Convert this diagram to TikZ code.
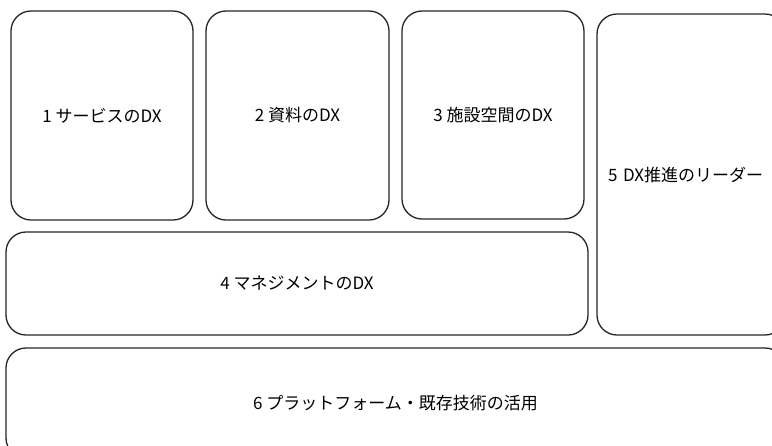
\documentclass[tikz,border=0pt]{standalone}
\usepackage{fontspec}
\setmainfont{Noto Sans CJK JP}
\begin{document}
\begin{tikzpicture}[x=1pt,y=-1pt,
  box/.style={draw=black!85, line width=1.3pt, rounded corners=20pt,
    rectangle, inner sep=0pt, font=\fontsize{17}{20}\selectfont, text=black},
]
\path[use as bounding box, clip] (0,0) rectangle (772,445);
\node[box, minimum width=182pt, minimum height=209pt] (b1) at (102,115.5) {1 サービスのDX};
\node[box, minimum width=183pt, minimum height=209pt] (b2) at (297.5,115.5) {2 資料のDX};
\node[box, minimum width=182pt, minimum height=208pt] (b3) at (493,115) {3 施設空間のDX};
\node[box, minimum width=582pt, minimum height=103pt] (b4) at (297,283.5) {4 マネジメントのDX};
\node[box, minimum width=188pt, minimum height=321pt, text width=166pt, align=left, inner xsep=11pt] (b5) at (691,174.5) {5 DX推進のリーダー};
\node[box, minimum width=779pt, minimum height=110pt] (b6) at (395.5,403) {6 プラットフォーム・既存技術の活用};
\end{tikzpicture}
\end{document}
